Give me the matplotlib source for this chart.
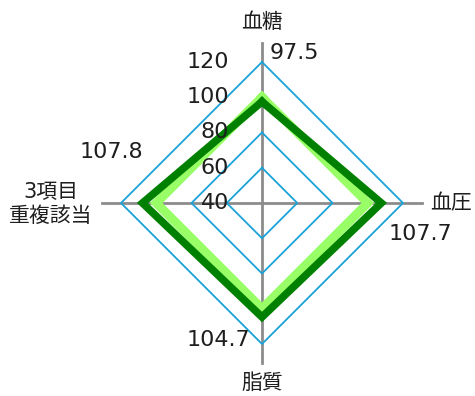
import numpy as np
import matplotlib
matplotlib.use("Agg")
import matplotlib.pyplot as plt

plt.rcParams['font.family'] = ['DejaVu Sans', 'Noto Sans CJK JP']

categories = ['血糖', '血圧', '脂質', '3項目\n重複該当']
base_values = [100, 100, 100, 100]
area_values = [97.5, 107.7, 104.7, 107.8]
ticks = [40, 60, 80, 100, 120]

W, H = 475, 396
cx, cy = 262, 203          # centre in pixels (from top-left)
scale = 141 / 80.0         # pixels per unit

fig = plt.figure(figsize=(W / 100, H / 100), dpi=100)
ax = fig.add_axes([0, 0, 1, 1])
ax.set_xlim(-cx / scale, (W - cx) / scale)
ax.set_ylim(-(H - cy) / scale, cy / scale)
ax.set_aspect('equal')
ax.axis('off')

rmin = ticks[0]
angles = np.deg2rad([90, 0, -90, 180])


def xy(vals):
    r = np.array(vals, dtype=float) - rmin
    x = r * np.cos(angles)
    y = r * np.sin(angles)
    return np.append(x, x[0]), np.append(y, y[0])


# spokes
spoke = 131 - rmin
for a in angles:
    ax.plot([0, spoke * np.cos(a)], [0, spoke * np.sin(a)], color='#8c8c8c', lw=2, zorder=1)

# grid diamonds
for t in ticks[1:]:
    gx, gy = xy([t] * 4)
    ax.plot(gx, gy, color='#1aa3d9', lw=1.3, zorder=2)

bx, by = xy(base_values)
ax.plot(bx, by, color='#99ff66', lw=6.5, zorder=3, solid_joinstyle='miter')
dx, dy = xy(area_values)
ax.plot(dx, dy, color='#008000', lw=5.5, zorder=4, solid_joinstyle='miter')


def px(x, y):
    return x / W, 1 - y / H


fs = 15
nfs = 16
tc = '#1e1e1e'
# tick labels
for t in ticks:
    r = (t - rmin) * scale
    fig.text(*px(229, cy - r), str(t), ha='right', va='center', fontsize=nfs, color=tc)

# category labels
fig.text(*px(262, 22), categories[0], ha='center', va='center', fontsize=fs, color=tc)
fig.text(*px(430, 203), categories[1], ha='left', va='center', fontsize=fs, color=tc)
fig.text(*px(262, 383), categories[2], ha='center', va='center', fontsize=fs, color=tc)
fig.text(*px(51, 204), categories[3], ha='center', va='center', fontsize=fs, color=tc,
         linespacing=1.25)

# data labels
fig.text(*px(270, 53), f'{area_values[0]}', ha='left', va='center', fontsize=nfs, color=tc)
fig.text(*px(452, 234), f'{area_values[1]}', ha='right', va='center', fontsize=nfs, color=tc)
fig.text(*px(250, 340), f'{area_values[2]}', ha='right', va='center', fontsize=nfs, color=tc)
fig.text(*px(143, 152), f'{area_values[3]}', ha='right', va='center', fontsize=nfs, color=tc)

fig.savefig('out.png', dpi=100)
